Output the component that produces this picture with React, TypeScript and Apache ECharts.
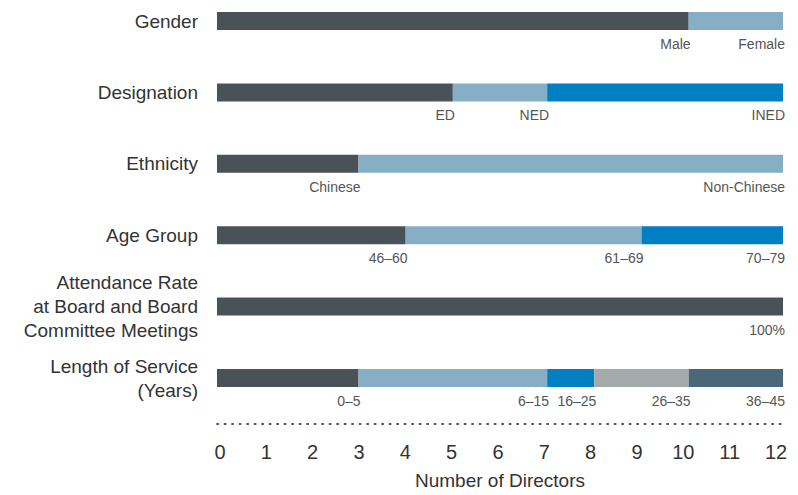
import React, { useEffect, useRef } from "react";
import * as echarts from "echarts";

const categories = [
  "Gender",
  "Designation",
  "Ethnicity",
  "Age Group",
  "Attendance Rate\nat Board and Board\nCommittee Meetings",
  "Length of Service\n(Years)",
];

const genderValues = [10, 2];
const genderLabels = ["Male", "Female"];
const designationValues = [5, 2, 5];
const designationLabels = ["ED", "NED", "INED"];
const ethnicityValues = [3, 9];
const ethnicityLabels = ["Chinese", "Non-Chinese"];
const ageValues = [4, 5, 3];
const ageLabels = ["46–60", "61–69", "70–79"];
const attendanceValues = [12];
const attendanceLabels = ["100%"];
const serviceValues = [3, 4, 1, 2, 2];
const serviceLabels = ["0–5", "6–15", "16–25", "26–35", "36–45"];

const xTicks = [0, 1, 2, 3, 4, 5, 6, 7, 8, 9, 10, 11, 12];

const palette = ["#495256", "#86afc6", "#007fc3", "#a3aaa9", "#4a6879"];

const FONT = "'Liberation Sans', Arial, sans-serif";

export default function App() {
  const ref = useRef<HTMLDivElement>(null);
  useEffect(() => {
    if (!ref.current) return;
    const chart = echarts.init(ref.current, undefined, { renderer: "svg" });
    const values = [genderValues, designationValues, ethnicityValues, ageValues, attendanceValues, serviceValues];
    const labels = [genderLabels, designationLabels, ethnicityLabels, ageLabels, attendanceLabels, serviceLabels];
    const maxSeg = Math.max(...values.map((v) => v.length));
    const series: any[] = [];
    for (let i = 0; i < maxSeg; i++) {
      series.push({
        type: "bar",
        stack: "total",
        barWidth: 18,
        xAxisIndex: 0,
        yAxisIndex: 0,
        itemStyle: { color: palette[i] },
        data: values.map((v, c) =>
          v[i] === undefined
            ? { value: "-" }
            : {
                value: v[i],
                label: {
                  show: true,
                  formatter: labels[c][i],
                },
              }
        ),
        label: {
          show: true,
          position: ["100%", "100%"],
          align: "right",
          verticalAlign: "top",
          offset: [2, 7],
          fontFamily: FONT,
          fontSize: 14,
          color: "#555",
        },
      });
    }
    chart.setOption({
      animation: false,
      grid: [
        { left: 217, right: 15, top: 21, height: 357 },
        { left: 220, right: 22, top: 21, height: 357 },
      ],
      xAxis: [
        {
          type: "value",
          gridIndex: 0,
          min: xTicks[0],
          max: xTicks[xTicks.length - 1],
          interval: 1,
          offset: 46,
          axisLine: { show: true, lineStyle: { color: "#555", type: [1.2, 6.3], width: 1.8 } },
          axisTick: { show: false },
          splitLine: { show: false },
          axisLabel: { show: false },
          name: "Number of Directors",
          nameLocation: "middle",
          nameGap: 47,
          nameTextStyle: { fontFamily: FONT, fontSize: 19, color: "#333" },
        },
        {
          type: "value",
          gridIndex: 1,
          min: xTicks[0],
          max: xTicks[xTicks.length - 1],
          interval: 1,
          offset: 46,
          axisLine: { show: false },
          axisTick: { show: false },
          splitLine: { show: false },
          axisLabel: { margin: 18, fontFamily: FONT, fontSize: 20, color: "#333" },
        },
      ],
      yAxis: [
        {
          type: "category",
          gridIndex: 0,
          inverse: true,
          boundaryGap: false,
          data: categories,
          axisLine: { show: false },
          axisTick: { show: false },
          splitLine: { show: false },
          axisLabel: {
            margin: 19,
            fontFamily: FONT,
            fontSize: 19,
            lineHeight: 24,
            color: "#333",
            align: "right",
          },
        },
        {
          type: "category",
          gridIndex: 1,
          inverse: true,
          boundaryGap: false,
          data: categories,
          show: false,
        },
      ],
      series,
    });
    return () => chart.dispose();
  }, []);
  return <div ref={ref} style={{ width: 798, height: 495, position: "absolute", left: 0, top: 0 }} />;
}
